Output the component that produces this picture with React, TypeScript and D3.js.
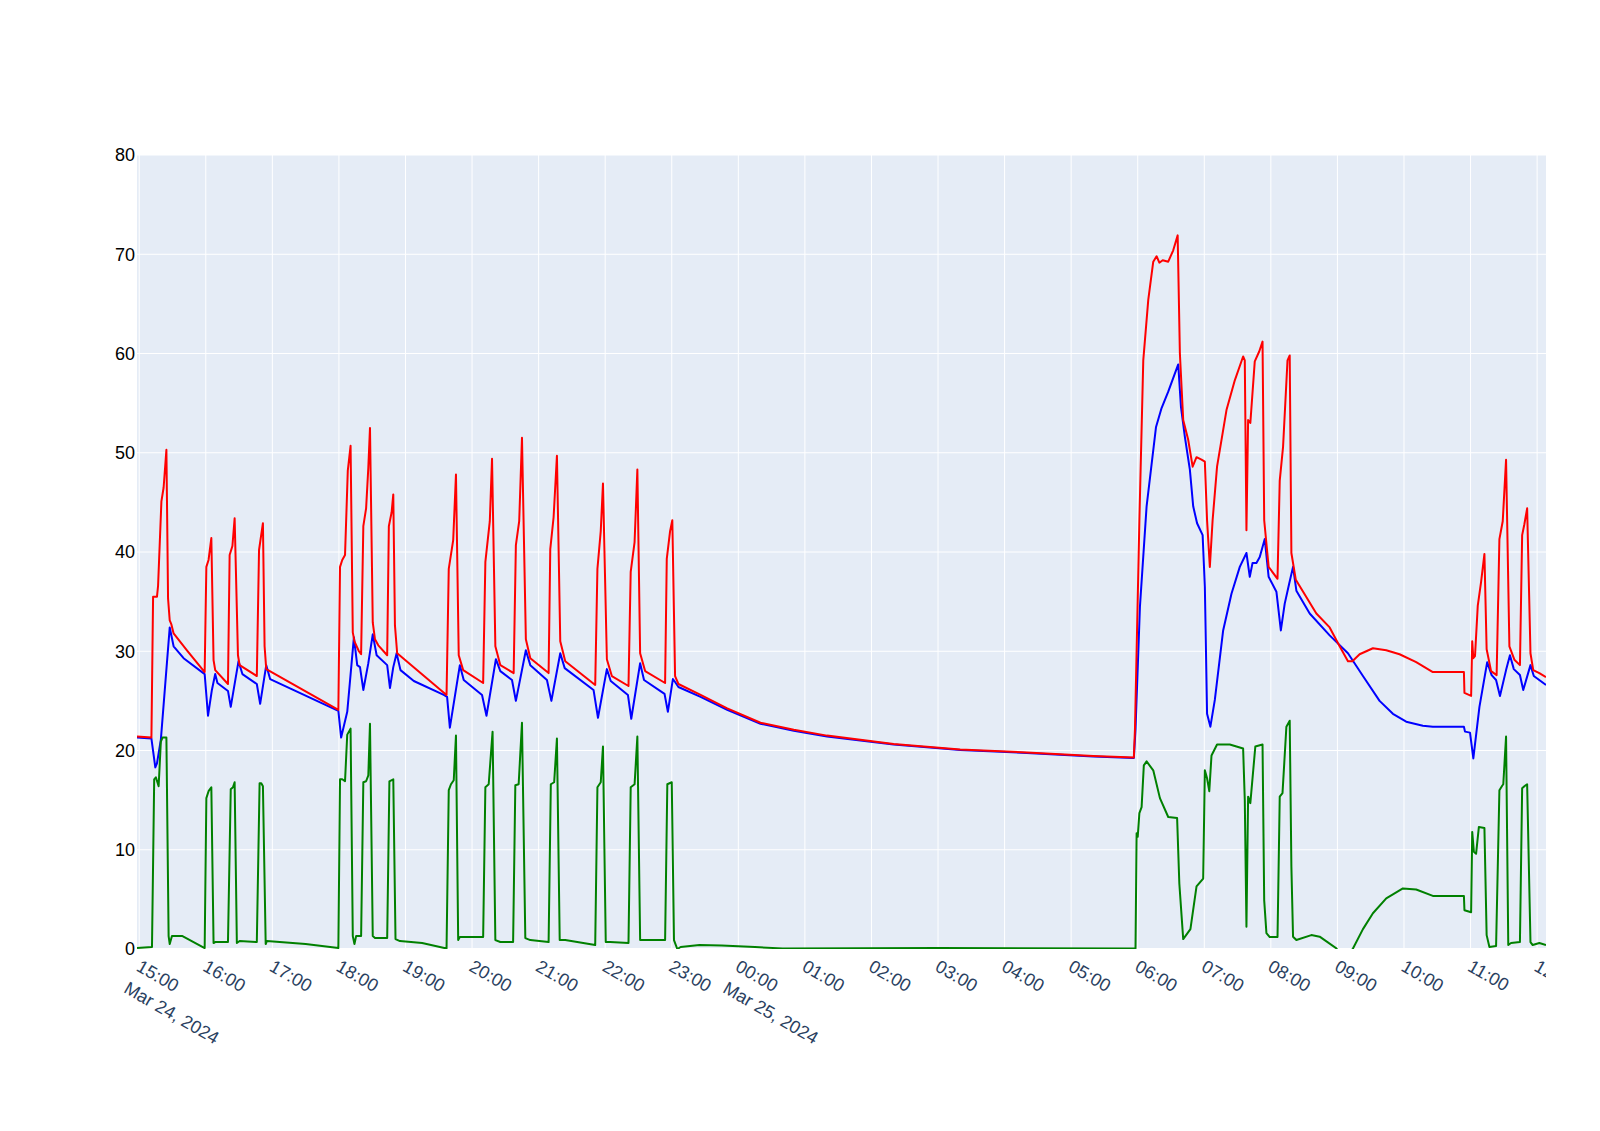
import React, { useRef, useEffect } from 'react';
import * as d3 from 'd3';

// [day-of-March HH:MM(.5), value]
type Reading = [string, number];

const redReadings: Reading[] = [
  ['24 14:58', 21.4], ['24 15:11', 21.3], ['24 15:12.5', 35.5], ['24 15:16', 35.5], ['24 15:17', 36.6],
  ['24 15:20', 45.1], ['24 15:22', 46.5], ['24 15:24.5', 50.3], ['24 15:26', 35.3], ['24 15:27.5', 33.1],
  ['24 15:29', 32.7], ['24 15:31', 31.8], ['24 15:43', 30.1], ['24 15:59', 27.9], ['24 16:00.5', 38.5],
  ['24 16:02.5', 39.2], ['24 16:05', 41.4], ['24 16:07', 29.1], ['24 16:08.5', 28.1], ['24 16:20', 26.7],
  ['24 16:21.5', 39.7], ['24 16:24', 40.6], ['24 16:26', 43.4], ['24 16:29', 29.6], ['24 16:30.5', 28.6],
  ['24 16:46', 27.5], ['24 16:48', 40.2], ['24 16:51.5', 42.9], ['24 16:53', 30.5], ['24 16:54.5', 28.2],
  ['24 17:59.5', 24.1], ['24 18:01', 38.5], ['24 18:03', 39.2], ['24 18:05.5', 39.7], ['24 18:08', 48.2],
  ['24 18:10.5', 50.7], ['24 18:12.5', 31.9], ['24 18:14', 31.0], ['24 18:18', 30.0], ['24 18:20', 29.7],
  ['24 18:22', 42.6], ['24 18:24.5', 44.4], ['24 18:26.5', 48.5], ['24 18:28', 52.5], ['24 18:30.5', 32.9],
  ['24 18:32.5', 31.2], ['24 18:35.5', 30.6], ['24 18:43.5', 29.6], ['24 18:45', 42.6], ['24 18:47.5', 44.0],
  ['24 18:49', 45.8], ['24 18:50.5', 32.6], ['24 18:52.5', 29.8], ['24 19:37', 25.6], ['24 19:39', 38.3],
  ['24 19:43', 41.2], ['24 19:45.5', 47.8], ['24 19:48', 29.6], ['24 19:52', 28.1], ['24 20:10', 26.8],
  ['24 20:12', 39.0], ['24 20:16', 43.1], ['24 20:18', 49.4], ['24 20:21', 30.5], ['24 20:25.5', 28.6],
  ['24 20:37.5', 27.8], ['24 20:39.5', 40.7], ['24 20:42.5', 43.1], ['24 20:45', 51.5], ['24 20:48.5', 31.2],
  ['24 20:52.5', 29.3], ['24 21:09', 27.8], ['24 21:10.5', 40.3], ['24 21:13.5', 43.5], ['24 21:16.5', 49.7],
  ['24 21:19.5', 31.0], ['24 21:24', 29.0], ['24 21:51', 26.6], ['24 21:53', 38.3], ['24 21:56', 42.1],
  ['24 21:58', 46.9], ['24 22:01.5', 29.2], ['24 22:06', 27.5], ['24 22:21', 26.5], ['24 22:23', 38.0],
  ['24 22:26.5', 41.0], ['24 22:29', 48.3], ['24 22:31.5', 29.8], ['24 22:36', 28.0], ['24 22:54', 26.8],
  ['24 22:55.5', 39.3], ['24 22:58.5', 42.1], ['24 23:00.5', 43.2], ['24 23:03', 27.5], ['24 23:06', 26.7],
  ['24 23:26', 25.6], ['24 23:50', 24.25], ['25 00:20', 22.8], ['25 00:50', 22.1], ['25 01:20', 21.5],
  ['25 02:20', 20.65], ['25 03:20', 20.1], ['25 04:20', 19.8], ['25 05:20', 19.45], ['25 05:56.5', 19.3],
  ['25 05:57.5', 22.1], ['25 06:01.5', 43.2], ['25 06:05', 59.3], ['25 06:09.5', 65.4], ['25 06:14', 69.25],
  ['25 06:17', 69.8], ['25 06:19.5', 69.15], ['25 06:22.5', 69.4], ['25 06:27.5', 69.25], ['25 06:32', 70.4],
  ['25 06:36', 71.9], ['25 06:38', 60.0], ['25 06:41', 53.3], ['25 06:45.5', 51.3], ['25 06:49.5', 48.6],
  ['25 06:53', 49.55], ['25 06:57.5', 49.3], ['25 07:00.5', 49.1], ['25 07:02.5', 43.2], ['25 07:05', 38.5],
  ['25 07:07.5', 43.2], ['25 07:11.5', 48.6], ['25 07:20', 54.3], ['25 07:27.5', 57.3], ['25 07:35', 59.7],
  ['25 07:36.5', 59.3], ['25 07:38', 42.2], ['25 07:39.5', 53.3], ['25 07:41.5', 53.0], ['25 07:45.5', 59.2],
  ['25 07:49.5', 60.2], ['25 07:52.5', 61.2], ['25 07:54', 43.2], ['25 07:58', 38.5], ['25 08:06', 37.3],
  ['25 08:08', 47.2], ['25 08:11', 50.6], ['25 08:15', 59.3], ['25 08:17', 59.8], ['25 08:18.5', 39.9],
  ['25 08:22.5', 37.2], ['25 08:41', 33.8], ['25 08:53', 32.4], ['25 09:02', 30.5], ['25 09:09.5', 29.0],
  ['25 09:13.5', 29.0], ['25 09:20', 29.7], ['25 09:32', 30.3], ['25 09:44', 30.1], ['25 09:56', 29.7],
  ['25 10:11', 28.9], ['25 10:26', 27.9], ['25 10:54', 27.9], ['25 10:54.5', 25.8], ['25 11:00.5', 25.5],
  ['25 11:01.5', 31.0], ['25 11:02.5', 29.3], ['25 11:04', 29.5], ['25 11:06.5', 34.6], ['25 11:09.5', 37.0],
  ['25 11:12.5', 39.8], ['25 11:14.5', 30.2], ['25 11:18.5', 28.0], ['25 11:23.5', 27.6], ['25 11:26', 41.3],
  ['25 11:29', 43.1], ['25 11:32', 49.3], ['25 11:35', 30.5], ['25 11:39.5', 29.15], ['25 11:44.5', 28.6],
  ['25 11:46.5', 41.7], ['25 11:48.5', 42.8], ['25 11:51', 44.4], ['25 11:54', 29.8], ['25 11:56.5', 28.1],
  ['25 12:02', 27.8], ['25 12:08', 27.4],
];

const blueReadings: Reading[] = [
  ['24 14:58', 21.3], ['24 15:11', 21.2], ['24 15:14.5', 18.3], ['24 15:16', 18.7], ['24 15:19.5', 21.1],
  ['24 15:27.5', 32.4], ['24 15:31', 30.5], ['24 15:40', 29.3], ['24 15:59', 27.7], ['24 16:02', 23.5],
  ['24 16:05.5', 26.1], ['24 16:08.5', 27.7], ['24 16:10.5', 26.8], ['24 16:20', 26.0], ['24 16:22.5', 24.4],
  ['24 16:29.5', 29.0], ['24 16:33', 27.7], ['24 16:46', 26.7], ['24 16:49', 24.7], ['24 16:54.5', 28.6],
  ['24 16:58', 27.2], ['24 17:59.5', 24.0], ['24 18:02', 21.3], ['24 18:07.5', 23.9], ['24 18:13.5', 31.4],
  ['24 18:16.5', 28.6], ['24 18:19', 28.4], ['24 18:22', 26.1], ['24 18:26.5', 28.8], ['24 18:30.5', 31.7],
  ['24 18:34', 29.6], ['24 18:43.5', 28.6], ['24 18:46', 26.3], ['24 18:49', 28.4], ['24 18:52', 29.8],
  ['24 18:55.5', 28.1], ['24 19:07.5', 27.0], ['24 19:34.5', 25.6], ['24 19:37.5', 25.4], ['24 19:40', 22.3],
  ['24 19:49', 28.6], ['24 19:52.5', 27.1], ['24 20:09', 25.6], ['24 20:13', 23.5], ['24 20:21.5', 29.2],
  ['24 20:25.5', 28.0], ['24 20:36', 27.1], ['24 20:39.5', 25.0], ['24 20:48.5', 30.1], ['24 20:52.5', 28.6],
  ['24 21:07.5', 27.1], ['24 21:11.5', 25.0], ['24 21:19.5', 29.8], ['24 21:23.5', 28.3], ['24 21:49.5', 26.1],
  ['24 21:53.5', 23.3], ['24 22:01.5', 28.2], ['24 22:05', 27.0], ['24 22:20.5', 25.6], ['24 22:23.5', 23.2],
  ['24 22:31.5', 28.8], ['24 22:35', 27.1], ['24 22:53.5', 25.7], ['24 22:56.5', 23.9], ['24 23:01', 27.2],
  ['24 23:03', 26.9], ['24 23:06', 26.4], ['24 23:26', 25.4], ['24 23:50', 24.1], ['25 00:20', 22.7],
  ['25 00:50', 22.0], ['25 01:20', 21.4], ['25 02:20', 20.6], ['25 03:20', 20.05], ['25 04:20', 19.75],
  ['25 05:20', 19.4], ['25 05:56.5', 19.25], ['25 05:58', 22.1], ['25 06:02', 34.5], ['25 06:08', 44.6],
  ['25 06:16.5', 52.6], ['25 06:21.5', 54.5], ['25 06:27.5', 56.15], ['25 06:36.5', 58.9], ['25 06:39', 54.6],
  ['25 06:42.5', 51.6], ['25 06:47', 48.3], ['25 06:50', 44.6], ['25 06:53.5', 42.9], ['25 06:58.5', 41.7],
  ['25 07:00.5', 36.5], ['25 07:02.5', 23.7], ['25 07:05.5', 22.4], ['25 07:09.5', 25.1], ['25 07:17', 32.1],
  ['25 07:24.5', 35.8], ['25 07:32', 38.5], ['25 07:38', 39.9], ['25 07:41', 37.5], ['25 07:43.5', 38.9],
  ['25 07:47', 38.9], ['25 07:50', 39.5], ['25 07:54.5', 41.3], ['25 07:58', 37.5], ['25 08:05', 36.0],
  ['25 08:09', 32.1], ['25 08:12.5', 34.8], ['25 08:16.5', 36.8], ['25 08:20', 38.5], ['25 08:23', 36.1],
  ['25 08:35', 33.8], ['25 08:53', 31.6], ['25 09:09.5', 29.8], ['25 09:23', 27.5], ['25 09:38', 25.0],
  ['25 09:50', 23.7], ['25 10:02', 22.9], ['25 10:17', 22.5], ['25 10:26', 22.4], ['25 10:54', 22.4],
  ['25 10:55', 21.9], ['25 10:59.5', 21.8], ['25 11:02.5', 19.2], ['25 11:08', 24.4], ['25 11:15', 28.9],
  ['25 11:19', 27.6], ['25 11:23', 27.1], ['25 11:26.5', 25.5], ['25 11:32', 28.1], ['25 11:35.5', 29.6],
  ['25 11:39', 28.2], ['25 11:44.5', 27.6], ['25 11:47.5', 26.1], ['25 11:54', 28.6], ['25 11:57', 27.5],
  ['25 12:08', 26.6],
];

const greenReadings: Reading[] = [
  ['24 14:58', 0.1], ['24 15:11.5', 0.2], ['24 15:13.5', 17.1], ['24 15:15', 17.3], ['24 15:17.5', 16.4],
  ['24 15:19.5', 20.9], ['24 15:21', 21.3], ['24 15:24.5', 21.3], ['24 15:26.5', 1.3], ['24 15:27.5', 0.5],
  ['24 15:29.5', 1.3], ['24 15:39', 1.3], ['24 15:59', 0.1], ['24 16:00.5', 15.2], ['24 16:02.5', 15.9],
  ['24 16:05', 16.3], ['24 16:07', 0.6], ['24 16:08.5', 0.7], ['24 16:20', 0.7], ['24 16:22.5', 16.1],
  ['24 16:24.5', 16.3], ['24 16:26', 16.8], ['24 16:28', 0.6], ['24 16:30.5', 0.8], ['24 16:46', 0.7],
  ['24 16:48.5', 16.7], ['24 16:50', 16.7], ['24 16:51.5', 16.4], ['24 16:54', 0.5], ['24 16:55', 0.8],
  ['24 17:30', 0.5], ['24 17:59.5', 0.1], ['24 18:01', 17.1], ['24 18:03', 17.1], ['24 18:05.5', 16.9],
  ['24 18:07.5', 21.6], ['24 18:10.5', 22.2], ['24 18:12.5', 1.3], ['24 18:14', 0.5], ['24 18:15.5', 1.3],
  ['24 18:20', 1.3], ['24 18:22', 16.8], ['24 18:24.5', 16.9], ['24 18:26.5', 17.5], ['24 18:28', 22.7],
  ['24 18:30.5', 1.3], ['24 18:32.5', 1.1], ['24 18:43.5', 1.1], ['24 18:45.5', 16.9], ['24 18:49', 17.1],
  ['24 18:51', 1.0], ['24 18:55', 0.8], ['24 19:15', 0.6], ['24 19:37', 0.05], ['24 19:39', 16.0],
  ['24 19:41', 16.6], ['24 19:43.5', 17.0], ['24 19:45.5', 21.5], ['24 19:47.5', 0.9], ['24 19:49', 1.2],
  ['24 20:10', 1.2], ['24 20:12', 16.3], ['24 20:15', 16.6], ['24 20:18.5', 21.9], ['24 20:21', 0.9],
  ['24 20:25.5', 0.7], ['24 20:37', 0.7], ['24 20:39', 16.5], ['24 20:42', 16.6], ['24 20:45', 22.8],
  ['24 20:48', 1.1], ['24 20:52.5', 0.9], ['24 21:09', 0.7], ['24 21:11', 16.6], ['24 21:14', 16.8],
  ['24 21:16.5', 21.2], ['24 21:19', 0.9], ['24 21:24', 0.9], ['24 21:51', 0.4], ['24 21:53', 16.3],
  ['24 21:56', 16.8], ['24 21:58', 20.4], ['24 22:00.5', 0.7], ['24 22:04.5', 0.7], ['24 22:21', 0.6],
  ['24 22:23', 16.3], ['24 22:26.5', 16.6], ['24 22:29', 21.4], ['24 22:31.5', 0.9], ['24 22:54', 0.9],
  ['24 22:56', 16.6], ['24 23:00', 16.8], ['24 23:02', 0.9], ['24 23:05', 0.0], ['24 23:08', 0.2],
  ['24 23:25', 0.4], ['24 23:45', 0.35], ['25 00:15', 0.2], ['25 00:40', 0.05], ['25 03:00', 0.1],
  ['25 05:58', 0.05], ['25 05:59', 11.65], ['25 06:00', 11.3], ['25 06:01.5', 13.7], ['25 06:03.5', 14.3],
  ['25 06:05.5', 18.5], ['25 06:08', 18.9], ['25 06:14', 18.0], ['25 06:20', 15.2], ['25 06:27.5', 13.3],
  ['25 06:35.5', 13.2], ['25 06:37.5', 6.6], ['25 06:41', 1.0], ['25 06:47.5', 2.0], ['25 06:53', 6.3],
  ['25 06:59', 7.1], ['25 07:00.5', 18.0], ['25 07:02.5', 17.2], ['25 07:04.5', 15.9], ['25 07:06.5', 19.5],
  ['25 07:11.5', 20.6], ['25 07:23', 20.6], ['25 07:35', 20.2], ['25 07:36.5', 15.0], ['25 07:38', 2.25],
  ['25 07:39.5', 15.35], ['25 07:41.5', 14.7], ['25 07:46', 20.4], ['25 07:52.5', 20.6], ['25 07:54', 4.9],
  ['25 07:56', 1.6], ['25 07:59', 1.2], ['25 08:06', 1.2], ['25 08:08', 15.35], ['25 08:10.5', 15.7],
  ['25 08:14', 22.4], ['25 08:17', 23.0], ['25 08:18.5', 8.3], ['25 08:20', 1.24], ['25 08:23', 0.9],
  ['25 08:36.5', 1.4], ['25 08:44', 1.24], ['25 08:59', 0.07], ['25 09:06', -1.2], ['25 09:14', 0.05],
  ['25 09:23', 2.0], ['25 09:32', 3.6], ['25 09:44', 5.1], ['25 09:59', 6.1], ['25 10:11', 6.0],
  ['25 10:26', 5.35], ['25 10:54', 5.35], ['25 10:54.5', 3.9], ['25 11:00.5', 3.7], ['25 11:01.5', 11.8],
  ['25 11:03', 9.8], ['25 11:05', 9.6], ['25 11:07.5', 12.3], ['25 11:12.5', 12.2], ['25 11:14.5', 1.4],
  ['25 11:17', 0.2], ['25 11:23', 0.3], ['25 11:26', 16.0], ['25 11:28.5', 16.45], ['25 11:29.5', 16.6],
  ['25 11:32', 21.4], ['25 11:34', 0.4], ['25 11:36.5', 0.6], ['25 11:44.5', 0.7], ['25 11:46.5', 16.2],
  ['25 11:48.5', 16.4], ['25 11:51', 16.6], ['25 11:54', 0.7], ['25 11:56', 0.4], ['25 12:02', 0.6],
  ['25 12:08', 0.4],
];

const yTicks = [0, 10, 20, 30, 40, 50, 60, 70, 80];

const seriesList = [
  { name: 'blue', color: '#0000ff', readings: blueReadings },
  { name: 'red', color: '#ff0000', readings: redReadings },
  { name: 'green', color: '#008000', readings: greenReadings },
];

const WIDTH = 1600;
const HEIGHT = 1131;
const margin = { top: 155, right: 54, bottom: 182, left: 137 };
const FONT = '"Liberation Sans", Arial, sans-serif';

function parseStamp(s: string): Date {
  const [day, hm] = s.split(' ');
  const [h, m] = hm.split(':').map(Number);
  const base = new Date(2024, 2, Number(day), h, 0, 0, 0);
  return new Date(base.getTime() + m * 60000);
}

function TimeSeriesChart() {
  const svgRef = useRef<SVGSVGElement>(null);

  useEffect(() => {
    if (!svgRef.current) return;
    const svg = d3.select(svgRef.current);
    svg.selectAll('*').remove();

    const chartWidth = WIDTH - margin.left - margin.right;
    const chartHeight = HEIGHT - margin.top - margin.bottom;

    const parsed = seriesList.map((s) => ({
      ...s,
      points: s.readings.map(([t, v]) => ({ date: parseStamp(t), value: v })),
    }));

    const allDates = parsed.flatMap((s) => s.points.map((p) => p.date));
    const xScale = d3.scaleTime()
      .domain(d3.extent(allDates) as [Date, Date])
      .range([0, chartWidth]);

    const yScale = d3.scaleLinear()
      .domain([0, 80])
      .range([chartHeight, 0]);

    const defs = svg.append('defs');
    defs.append('clipPath')
      .attr('id', 'plot-clip')
      .append('rect')
      .attr('width', chartWidth)
      .attr('height', chartHeight);
    // tick labels get cut at the right end of the plot
    defs.append('clipPath')
      .attr('id', 'xlabel-clip')
      .append('rect')
      .attr('x', -margin.left)
      .attr('y', chartHeight)
      .attr('width', margin.left + chartWidth)
      .attr('height', margin.bottom);

    const g = svg.append('g')
      .attr('transform', `translate(${margin.left},${margin.top})`);

    // plot background
    g.append('rect')
      .attr('width', chartWidth)
      .attr('height', chartHeight)
      .attr('fill', '#e5ecf6');

    const hourTicks = xScale.ticks(d3.timeHour.every(1) as d3.TimeInterval);

    // grid
    hourTicks.forEach((t) => {
      g.append('line')
        .attr('x1', xScale(t)).attr('x2', xScale(t))
        .attr('y1', 0).attr('y2', chartHeight)
        .attr('stroke', '#ffffff').attr('stroke-width', 1);
    });
    yTicks.forEach((tick) => {
      g.append('line')
        .attr('x1', 0).attr('x2', chartWidth)
        .attr('y1', yScale(tick)).attr('y2', yScale(tick))
        .attr('stroke', '#ffffff')
        .attr('stroke-width', tick === 0 ? 2 : 1);
    });

    const line = d3.line<{ date: Date; value: number }>()
      .x((d) => xScale(d.date))
      .y((d) => yScale(d.value));

    const lines = g.append('g').attr('clip-path', 'url(#plot-clip)');
    parsed.forEach((s) => {
      lines.append('path')
        .datum(s.points)
        .attr('fill', 'none')
        .attr('stroke', s.color)
        .attr('stroke-width', 2)
        .attr('stroke-linejoin', 'round')
        .attr('d', line);
    });

    // y labels
    yTicks.forEach((tick) => {
      g.append('text')
        .attr('x', -2)
        .attr('y', yScale(tick))
        .attr('dy', '0.36em')
        .attr('text-anchor', 'end')
        .attr('font-family', FONT)
        .attr('font-size', 18)
        .attr('fill', '#000000')
        .text(String(tick));
    });

    // x labels, rotated 30deg
    const fmtHour = d3.timeFormat('%H:%M');
    const fmtDay = d3.timeFormat('%b %-d, %Y');
    const xLabels = g.append('g').attr('clip-path', 'url(#xlabel-clip)');
    hourTicks.forEach((t, i) => {
      const label = xLabels.append('text')
        .attr('transform', `translate(${xScale(t) - 4},${chartHeight + 21}) rotate(30)`)
        .attr('text-anchor', 'start')
        .attr('font-family', FONT)
        .attr('font-size', 18)
        .attr('fill', '#2a3f5f');
      label.append('tspan').attr('x', 0).text(fmtHour(t));
      if (i === 0 || t.getHours() === 0) {
        label.append('tspan').attr('x', 0).attr('dy', '1.4em').text(fmtDay(t));
      }
    });
  }, []);

  return <svg ref={svgRef} width={WIDTH} height={HEIGHT} style={{ display: 'block' }} />;
}

export default function App() {
  return (
    <div style={{ position: 'absolute', left: 0, top: 0, width: WIDTH, height: HEIGHT, background: '#ffffff' }}>
      <TimeSeriesChart />
    </div>
  );
}
